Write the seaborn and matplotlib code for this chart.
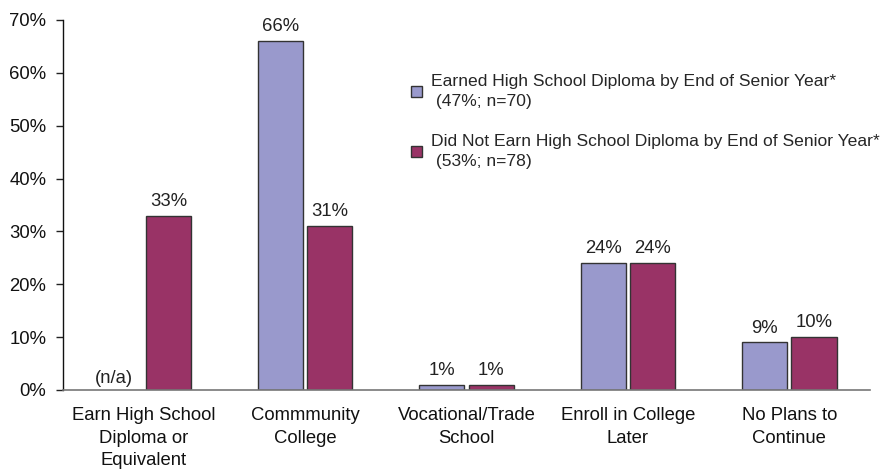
import matplotlib
matplotlib.use("Agg")
import matplotlib.pyplot as plt
import seaborn as sns
import pandas as pd
import numpy as np
from matplotlib.ticker import FixedLocator, PercentFormatter

categories = ["Earn High School\nDiploma or\nEquivalent", "Commmunity\nCollege",
              "Vocational/Trade\nSchool", "Enroll in College\nLater", "No Plans to\nContinue"]
earned = [np.nan, 66, 1, 24, 9]
not_earned = [33, 31, 1, 24, 10]
series = ["Earned High School Diploma by End of Senior Year*\n (47%; n=70)",
          "Did Not Earn High School Diploma by End of Senior Year*\n (53%; n=78)"]
colors = ["#9999CC", "#993366"]

df = pd.DataFrame({
    "cat": categories * 2,
    "val": earned + not_earned,
    "grp": [series[0]] * 5 + [series[1]] * 5,
})

sns.set_style("white")
plt.rcParams['font.family'] = ['Liberation Sans', 'DejaVu Sans']

fig = plt.figure(figsize=(8.93, 4.71), dpi=100)
ax = fig.add_axes([63/893, 81/471, (870-63)/893, (390-20)/471])

sns.barplot(data=df, x="cat", y="val", hue="grp", palette=colors, width=0.61,
            edgecolor="#333333", linewidth=1.0, ax=ax, saturation=1, legend=True)

for p in ax.patches:
    if p.get_height() is None or np.isnan(p.get_height()):
        continue
    w = p.get_width()
    if w <= 0:
        continue
    c = p.get_x() + w / 2
    nw = 0.28
    p.set_x(c - nw / 2)
    p.set_width(nw)

offs = [-0.153, 0.153]
for si, vals in enumerate([earned, not_earned]):
    for i, v in enumerate(vals):
        x = i + offs[si]
        if np.isnan(v):
            ax.text(x - 0.03, 0.5, "(n/a)", ha="center", va="bottom", fontsize=13.3, color="#222222")
        else:
            ax.text(x, v + 1.1, f"{v:.0f}%", ha="center", va="bottom", fontsize=13.3, color="#222222")

ax.set_xlim(-0.5, 4.5)
ax.set_ylim(0, 70)
ax.set_yticks(np.arange(0, 71, 10))
ax.yaxis.set_major_formatter(PercentFormatter(decimals=0))
ax.set_xlabel("")
ax.set_ylabel("")
ax.xaxis.set_minor_locator(FixedLocator([0.5, 1.5, 2.5, 3.5, 4.5]))
ax.tick_params(axis="x", which="major", length=0, pad=12, labelsize=13.3, colors="#111111")
ax.tick_params(axis="x", which="minor", length=5, width=1, color="#222222", direction="out")
ax.tick_params(axis="y", length=5, width=1, direction="out", left=True, labelsize=13.3,
               colors="#111111", pad=7)
ax.tick_params(axis="y", color="#222222")
for lbl in ax.get_xticklabels():
    lbl.set_linespacing(1.45)

for s in ["top", "right"]:
    ax.spines[s].set_visible(False)
ax.spines["left"].set_color("#111111")
ax.spines["bottom"].set_color("#777777")
ax.spines["left"].set_linewidth(1.0)
ax.spines["bottom"].set_linewidth(1.2)

leg = ax.legend(loc="upper left", bbox_to_anchor=(411/893, 1 - 74/471),
                bbox_transform=fig.transFigure, frameon=False, fontsize=12.6,
                handlelength=0.6, handleheight=0.6, handletextpad=0.55,
                labelspacing=1.4, borderaxespad=0, borderpad=0)
for h in leg.legend_handles:
    h.set_edgecolor("#333333")
    h.set_linewidth(1.0)
for t in leg.get_texts():
    t.set_linespacing(1.45)

fig.savefig("out.png", dpi=100)
